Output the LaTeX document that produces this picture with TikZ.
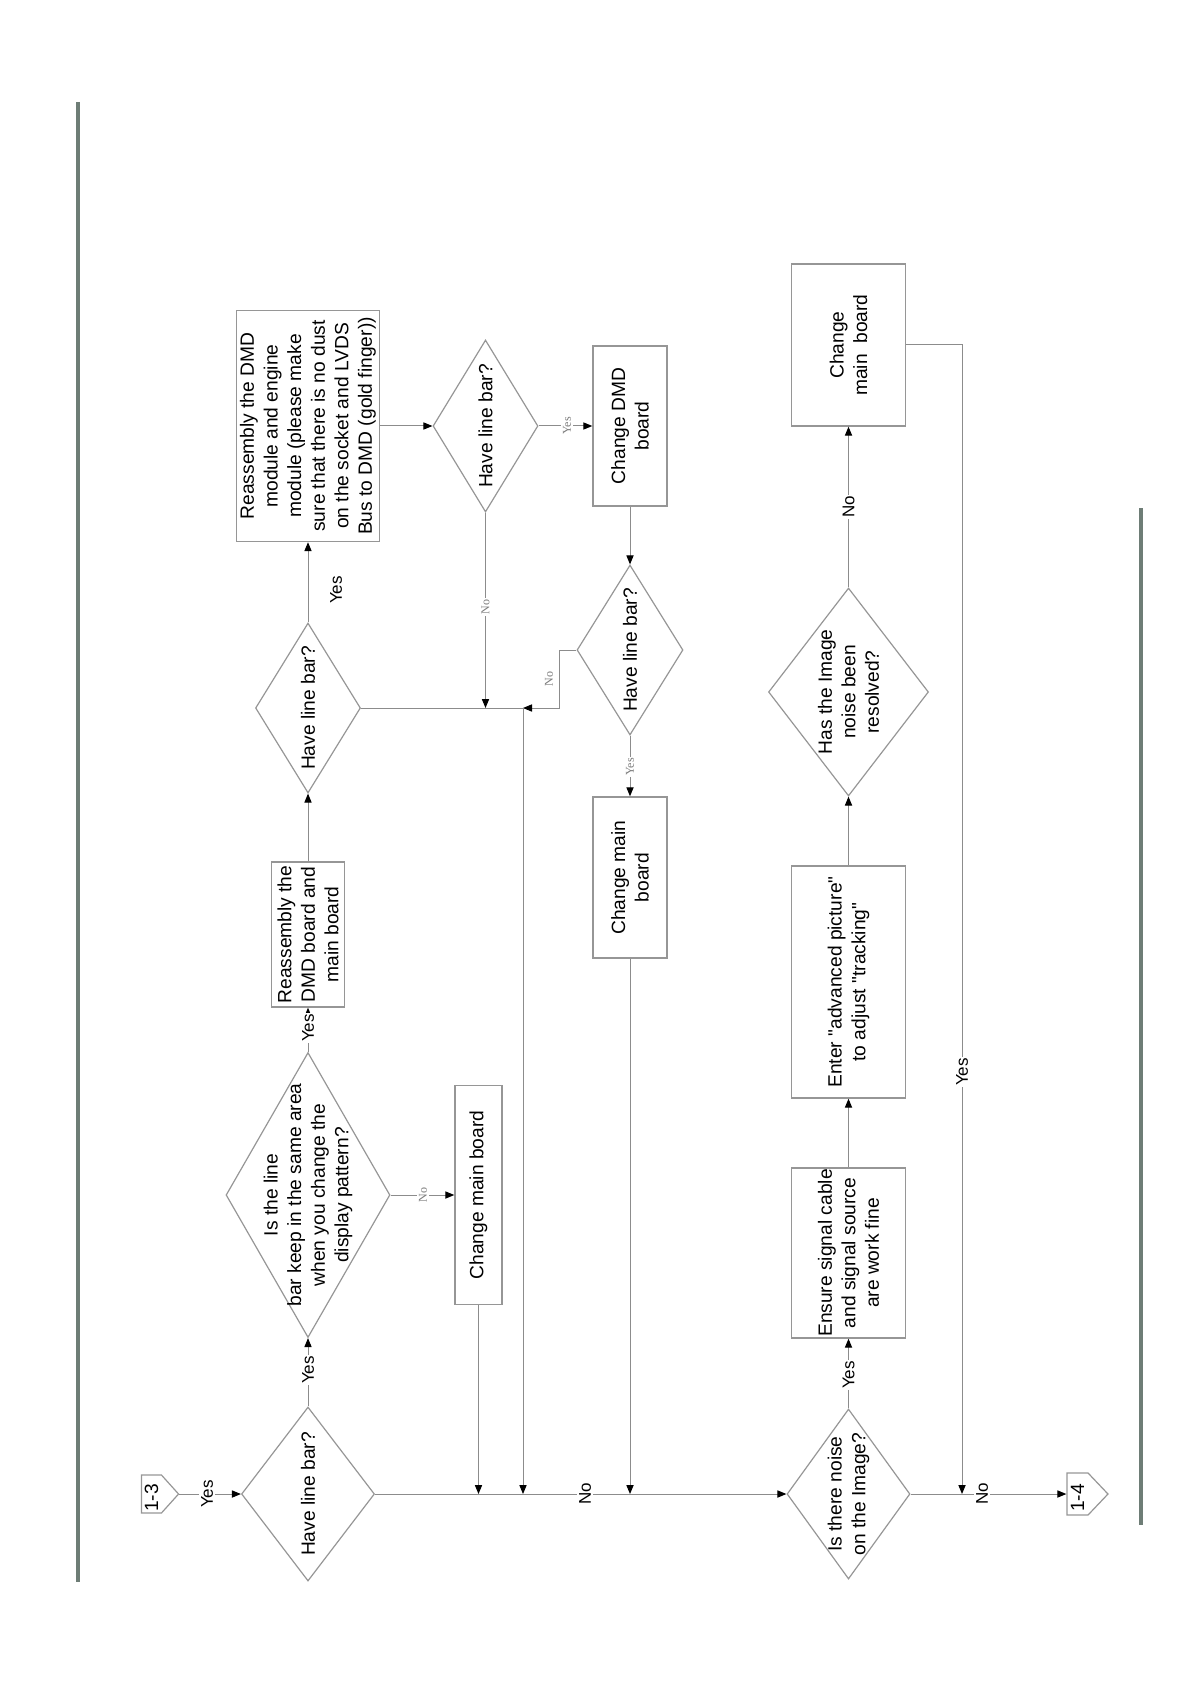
\documentclass[tikz,border=0pt]{standalone}
\usepackage{fontspec}
\setmainfont{Liberation Sans}
\newfontfamily\lblserif{Liberation Serif}
\usetikzlibrary{shapes.geometric,shapes.symbols,arrows.meta}
\definecolor{boxgray}{RGB}{150,150,150}
\definecolor{linegray}{RGB}{140,140,140}
\definecolor{rulegray}{RGB}{110,125,118}
\definecolor{lblgray}{RGB}{125,125,125}
\newcommand\strq{\XeTeXglyph\XeTeXcharglyph"22\relax}
\begin{document}
\begin{tikzpicture}[x=0.5pt,y=-0.5pt,
  boxs/.style={draw=boxgray,line width=0.7pt,rectangle,inner sep=0pt},
  dias/.style={draw=boxgray,line width=0.6pt,diamond,inner sep=0pt},
  sig/.style={draw=boxgray,line width=0.6pt,signal,signal to=east,inner sep=0pt},
  txt/.style={rotate=90,align=center,inner sep=0pt,font=\fontsize{9.6}{11.8}\selectfont},
  conn/.style={draw=linegray,line width=0.5pt},
  arr/.style={conn,-{Triangle[length=4.5pt,width=3.6pt,color=black]}},
  blbl/.style={rotate=90,fill=white,inner sep=0.8pt,font=\fontsize{8.5}{10}\selectfont},
  glbl/.style={rotate=90,fill=white,inner sep=0.8pt,text=lblgray,font=\lblserif\fontsize{6}{7}\selectfont},
  rulel/.style={draw=rulegray,line width=2pt}
]
\useasboundingbox (0,0) rectangle (1191,1684);

% page rules
\draw[rulel] (78,102) -- (78,1582);
\draw[rulel] (1141,508) -- (1141,1525);

% nodes
\node[sig,minimum width=18.5pt,minimum height=19pt,signal pointer angle=96,label={[txt,xshift=-2pt]center:1-3}] (c13) at (151.5,1494) {};
\node[dias,minimum width=66.5pt,minimum height=87pt,label={[txt]center:Have line bar?}] (d1) at (308,1494) {};
\node[dias,minimum width=82pt,minimum height=142.5pt,label={[txt]center:{Is the line\\bar keep in the same area\\when you change the\\display pattern?}}] (d2) at (308,1195) {};
\node[boxs,minimum width=36.5pt,minimum height=72.5pt,label={[txt]center:{Reassembly the\\DMD board and\\main board}}] (b1) at (308,934.5) {};
\node[dias,minimum width=52.5pt,minimum height=85pt,label={[txt]center:Have line bar?}] (d3) at (308,708) {};
\node[boxs,minimum width=71.5pt,minimum height=115.5pt,label={[txt]center:{Reassembly the DMD\\module and engine\\module (please make\\sure that there is no dust\\on the socket and LVDS\\Bus to DMD (gold finger))}}] (bm) at (308,426) {};
\node[dias,minimum width=52.5pt,minimum height=86pt,label={[txt]center:Have line bar?}] (d4) at (485.5,426) {};
\node[boxs,minimum width=37pt,minimum height=80pt,label={[txt]center:{Change DMD\\board}}] (cdmd) at (630,426) {};
\node[dias,minimum width=53pt,minimum height=85pt,label={[txt]center:Have line bar?}] (d5) at (630,650) {};
\node[boxs,minimum width=37pt,minimum height=80.5pt,label={[txt]center:{Change main\\board}}] (cmb2) at (630,877.5) {};
\node[boxs,minimum width=23.5pt,minimum height=109.5pt,label={[txt]center:Change main board}] (cmb1) at (478.5,1195) {};
\node[dias,minimum width=61.5pt,minimum height=85pt,label={[txt]center:{Is there noise\\on the Image?}}] (d7) at (848.5,1494) {};
\node[boxs,minimum width=57pt,minimum height=85pt,label={[txt]center:{Ensure signal cable\\and signal source\\are work fine}}] (ens) at (848.5,1253) {};
\node[boxs,minimum width=57pt,minimum height=116pt,label={[txt]center:{Enter \strq{}advanced picture\strq\\to adjust \strq{}tracking\strq}}] (ent) at (848.5,982) {};
\node[dias,minimum width=80pt,minimum height=104pt,label={[txt]center:{Has the Image\\noise been\\resolved?}}] (d6) at (848.5,692) {};
\node[boxs,minimum width=57pt,minimum height=81pt,label={[txt]center:{Change\\main~~board}}] (cmb3) at (848.5,345) {};
\node[sig,minimum width=20.5pt,minimum height=21pt,signal pointer angle=93,label={[txt,xshift=-2pt]center:1-4}] (c14) at (1077.5,1494) {};

\coordinate (j1) at (523,708);
\coordinate (k1) at (962,345);

% connectors
\draw[arr] (c13) -- (d1) node[blbl] (ly1) at (207,1494) {Yes};
\draw[arr] (d1) -- (d2) node[blbl] (ly2) at (308,1370) {Yes};
\draw[arr] (d2) -- (b1) node[blbl] (ly3) at (308,1028) {Yes};
\draw[arr] (d2) -- (cmb1) node[glbl] (ln1) at (423,1195) {No};
\draw[arr] (b1) -- (d3);
\draw[arr] (d3) -- (bm) node[blbl,fill=none] (ly4) at (336,590) {Yes};
\draw[arr] (bm) -- (d4);
\draw[arr] (d4) -- (cdmd) node[glbl] (ly5) at (567,426) {Yes};
\draw[arr] (cdmd) -- (d5);
\draw[arr] (d5) -- (cmb2) node[glbl] (ly6) at (630,767) {Yes};
\draw[arr] (d4.south) -- (d4.south |- j1) node[glbl] (ln2) at (485.5,607) {No};
\draw[conn] (d3.east) -- (j1);
\draw[arr] (d5.west) -- ++(-17,0) |- (j1);
\node[glbl] (ln3) at (549,679) {No};
\draw[arr] (j1) -- (j1 |- d1.east);
\draw[arr] (cmb1.south) -- (cmb1.south |- d1.east);
\draw[arr] (cmb2.south) -- (cmb2.south |- d1.east);
\draw[arr] (d1.east) -- (d7.west) node[blbl] (ln4) at (585,1494) {No};
\draw[arr] (d7) -- (ens) node[blbl] (ly7) at (848.5,1375) {Yes};
\draw[arr] (ens) -- (ent);
\draw[arr] (ent) -- (d6);
\draw[arr] (d6) -- (cmb3) node[blbl] (ln5) at (848.5,507) {No};
\draw[arr] (cmb3.east) -- (k1) -- (k1 |- d7.east) node[blbl] (ly8) at (962,1072) {Yes};
\draw[arr] (d7) -- (c14) node[blbl] (ln6) at (982,1494) {No};
\end{tikzpicture}
\end{document}
